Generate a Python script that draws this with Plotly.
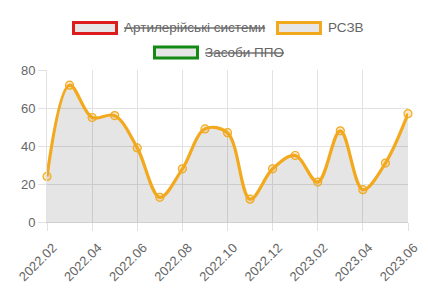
import plotly.graph_objects as go

months = ["2022.02","2022.03","2022.04","2022.05","2022.06","2022.07","2022.08","2022.09",
          "2022.10","2022.11","2022.12","2023.01","2023.02","2023.03","2023.04","2023.05","2023.06"]
rszv = [24, 72, 55, 56, 39, 13, 28, 49, 47, 12, 28, 35, 21, 48, 17, 31, 57]
legend_names = ["Артилерійські системи", "РСЗВ", "Засоби ППО"]
legend_colors = ["#dd1c1c", "#f2a91e", "#138a13"]
legend_hidden = [True, False, True]
y_ticks = [0, 20, 40, 60, 80]

FONT = "Liberation Sans, Arial, sans-serif"
GRAY = "#666666"

fig = go.Figure()
fig.add_trace(go.Scatter(
    x=months, y=rszv, mode="lines+markers",
    line=dict(color=legend_colors[1], width=3.2, shape="spline", smoothing=1.0),
    marker=dict(size=8, color="rgba(242,169,30,0.25)", line=dict(color=legend_colors[1], width=1.2)),
    fill="tozeroy", fillcolor="rgba(0,0,0,0.1)", showlegend=False, hoverinfo="x+y",
    cliponaxis=False,
))

W, H = 428, 293
L, R, T, B = 47, 408, 70, 222
def fx(x):
    return (x - L) / (R - L)
def fy(y):
    return (B - y) / (B - T)

items = [(72, 28), (276, 28), (153, 52.5)]
shapes = []
annotations = []
for (bx, cy), name, col, hid in zip(items, legend_names, legend_colors, legend_hidden):
    shapes.append(dict(type="rect", xref="paper", yref="paper",
                       x0=fx(bx + 1.5), x1=fx(bx + 44.5), y0=fy(cy - 5.5), y1=fy(cy + 5.5),
                       line=dict(color=col, width=3), fillcolor="#e6e6e6", layer="above"))
    txt = name
    if hid:
        txt = '<span style="text-decoration:line-through">' + name + '</span>'
    annotations.append(dict(xref="paper", yref="paper", x=fx(bx + 50), y=fy(cy),
                            xanchor="left", yanchor="middle", showarrow=False, text=txt,
                            font=dict(family=FONT, size=13.5, color=GRAY)))

fig.update_layout(
    width=W, height=H,
    margin=dict(l=L, r=W - R, t=T, b=H - B),
    paper_bgcolor="white", plot_bgcolor="white",
    font=dict(family=FONT, size=13, color=GRAY),
    shapes=shapes, annotations=annotations,
    xaxis=dict(type="category", tickvals=months[::2], ticktext=months[::2],
               tickangle=-45, showgrid=True, gridcolor="#e2e2e2", gridwidth=1,
               ticks="outside", ticklen=8, tickcolor="#e2e2e2",
               ticklabelstandoff=4, ticklabelshift=6, automargin=False,
               showline=True, linecolor="#cfcfcf", linewidth=1,
               range=[0, len(months) - 1], tickfont=dict(size=13, color=GRAY), zeroline=False),
    yaxis=dict(range=[0, 80], tickvals=y_ticks, showgrid=True, gridcolor="#e2e2e2",
               ticks="outside", ticklen=8, tickcolor="#e2e2e2", automargin=False,
               showline=True, linecolor="#e2e2e2", linewidth=1, zeroline=False,
               tickfont=dict(size=13, color=GRAY)),
)

fig.write_html("out.html")
